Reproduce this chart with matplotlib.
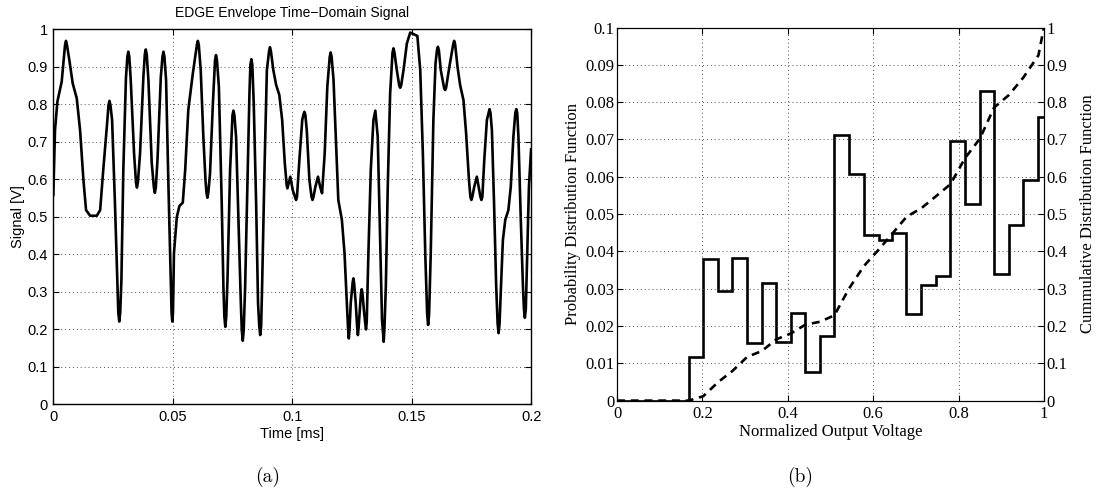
import numpy as np
import matplotlib
matplotlib.use('Agg')
import matplotlib.pyplot as plt
from matplotlib.ticker import FuncFormatter

# (a) 包络信号，从图上读出的点
t_ms = [0.0000, 0.0007, 0.0017, 0.0035, 0.0049, 0.0053, 0.0057, 0.0067, 0.0081, 0.0098,
        0.0112, 0.0126, 0.0137, 0.0154, 0.0182, 0.0196, 0.0209, 0.0224, 0.0231, 0.0235,
        0.0239, 0.0246, 0.0258, 0.0268, 0.0272, 0.0276, 0.0280, 0.0285, 0.0293, 0.0304,
        0.0310, 0.0314, 0.0318, 0.0324, 0.0338, 0.0346, 0.0350, 0.0354, 0.0363, 0.0377,
        0.0383, 0.0387, 0.0391, 0.0398, 0.0412, 0.0421, 0.0425, 0.0429, 0.0436, 0.0450,
        0.0457, 0.0461, 0.0465, 0.0472, 0.0482, 0.0492, 0.0495, 0.0498, 0.0501, 0.0505,
        0.0517, 0.0528, 0.0542, 0.0552, 0.0565, 0.0584, 0.0601, 0.0605, 0.0609, 0.0617,
        0.0628, 0.0637, 0.0641, 0.0645, 0.0649, 0.0656, 0.0668, 0.0677, 0.0681, 0.0685,
        0.0693, 0.0705, 0.0712, 0.0716, 0.0720, 0.0724, 0.0729, 0.0740, 0.0750, 0.0754,
        0.0758, 0.0765, 0.0775, 0.0785, 0.0789, 0.0793, 0.0797, 0.0803, 0.0814, 0.0821,
        0.0825, 0.0829, 0.0833, 0.0839, 0.0849, 0.0857, 0.0862, 0.0866, 0.0870, 0.0874,
        0.0884, 0.0894, 0.0903, 0.0907, 0.0911, 0.0921, 0.0933, 0.0946, 0.0958, 0.0969,
        0.0977, 0.0980, 0.0983, 0.0992, 0.1002, 0.1012, 0.1016, 0.1020, 0.1030, 0.1042,
        0.1047, 0.1051, 0.1055, 0.1061, 0.1072, 0.1081, 0.1085, 0.1089, 0.1097, 0.1108,
        0.1117, 0.1125, 0.1136, 0.1147, 0.1157, 0.1161, 0.1165, 0.1173, 0.1184, 0.1193,
        0.1208, 0.1219, 0.1229, 0.1234, 0.1237, 0.1240, 0.1245, 0.1253, 0.1256, 0.1259,
        0.1266, 0.1272, 0.1275, 0.1278, 0.1283, 0.1288, 0.1291, 0.1294, 0.1300, 0.1306,
        0.1309, 0.1312, 0.1319, 0.1329, 0.1340, 0.1348, 0.1358, 0.1368, 0.1376, 0.1380,
        0.1383, 0.1386, 0.1392, 0.1400, 0.1410, 0.1420, 0.1424, 0.1428, 0.1438, 0.1448,
        0.1452, 0.1456, 0.1466, 0.1480, 0.1494, 0.1508, 0.1524, 0.1536, 0.1547, 0.1557,
        0.1565, 0.1569, 0.1573, 0.1580, 0.1591, 0.1600, 0.1606, 0.1610, 0.1614, 0.1622,
        0.1636, 0.1640, 0.1644, 0.1658, 0.1674, 0.1678, 0.1682, 0.1692, 0.1703, 0.1717,
        0.1728, 0.1740, 0.1746, 0.1750, 0.1754, 0.1762, 0.1773, 0.1783, 0.1788, 0.1792,
        0.1796, 0.1804, 0.1815, 0.1822, 0.1826, 0.1830, 0.1836, 0.1845, 0.1854, 0.1860,
        0.1864, 0.1868, 0.1874, 0.1882, 0.1892, 0.1905, 0.1915, 0.1926, 0.1934, 0.1938,
        0.1942, 0.1947, 0.1957, 0.1966, 0.1970, 0.1974, 0.1978, 0.1982, 0.1991, 0.2000]
signal_v = [0.558, 0.731, 0.807, 0.860, 0.958, 0.969, 0.958, 0.918, 0.856, 0.816,
            0.731, 0.598, 0.518, 0.503, 0.503, 0.518, 0.625, 0.740, 0.798, 0.809,
            0.798, 0.758, 0.536, 0.332, 0.245, 0.221, 0.245, 0.332, 0.625, 0.870,
            0.927, 0.940, 0.927, 0.865, 0.669, 0.592, 0.578, 0.592, 0.669, 0.873,
            0.933, 0.946, 0.933, 0.865, 0.643, 0.578, 0.564, 0.578, 0.651, 0.873,
            0.927, 0.940, 0.927, 0.865, 0.580, 0.314, 0.245, 0.221, 0.245, 0.403,
            0.500, 0.529, 0.538, 0.625, 0.785, 0.882, 0.958, 0.969, 0.958, 0.891,
            0.714, 0.598, 0.565, 0.551, 0.565, 0.616, 0.803, 0.918, 0.931, 0.918,
            0.847, 0.536, 0.314, 0.235, 0.207, 0.235, 0.332, 0.625, 0.771, 0.783,
            0.771, 0.714, 0.492, 0.270, 0.198, 0.170, 0.198, 0.314, 0.625, 0.829,
            0.905, 0.920, 0.905, 0.803, 0.536, 0.270, 0.210, 0.185, 0.210, 0.314,
            0.625, 0.891, 0.941, 0.952, 0.941, 0.891, 0.851, 0.825, 0.758, 0.643,
            0.584, 0.576, 0.584, 0.607, 0.572, 0.553, 0.545, 0.553, 0.651, 0.758,
            0.772, 0.780, 0.772, 0.731, 0.598, 0.553, 0.545, 0.553, 0.580, 0.607,
            0.580, 0.563, 0.669, 0.847, 0.926, 0.938, 0.926, 0.865, 0.687, 0.545,
            0.492, 0.403, 0.270, 0.200, 0.176, 0.200, 0.270, 0.325, 0.336, 0.325,
            0.270, 0.205, 0.185, 0.205, 0.252, 0.298, 0.307, 0.298, 0.252, 0.215,
            0.200, 0.220, 0.403, 0.625, 0.758, 0.783, 0.714, 0.447, 0.225, 0.190,
            0.167, 0.200, 0.314, 0.580, 0.829, 0.938, 0.949, 0.938, 0.891, 0.850,
            0.844, 0.850, 0.891, 0.962, 0.991, 0.987, 0.982, 0.891, 0.669, 0.403,
            0.240, 0.212, 0.240, 0.403, 0.758, 0.909, 0.944, 0.953, 0.944, 0.891,
            0.843, 0.838, 0.843, 0.900, 0.960, 0.969, 0.960, 0.900, 0.851, 0.811,
            0.723, 0.598, 0.553, 0.545, 0.553, 0.580, 0.607, 0.572, 0.553, 0.545,
            0.553, 0.651, 0.758, 0.777, 0.787, 0.777, 0.731, 0.536, 0.314, 0.215,
            0.190, 0.215, 0.314, 0.438, 0.492, 0.518, 0.580, 0.714, 0.777, 0.787,
            0.777, 0.714, 0.492, 0.314, 0.255, 0.231, 0.255, 0.358, 0.580, 0.680]

# (b) 直方图
bin_edges = [0, 0.034, 0.068, 0.102, 0.136, 0.168, 0.202, 0.237, 0.270, 0.305, 0.339,
             0.373, 0.407, 0.441, 0.475, 0.509, 0.543, 0.578, 0.613, 0.645, 0.678,
             0.713, 0.746, 0.781, 0.815, 0.850, 0.883, 0.918, 0.952, 0.987, 1.0]
pdf_vals = [0, 0, 0, 0, 0, 0.0118, 0.0380, 0.0293, 0.0383, 0.0154,
            0.0314, 0.0157, 0.0236, 0.0078, 0.0172, 0.0712, 0.0608, 0.0444, 0.0430, 0.0448,
            0.0233, 0.0309, 0.0333, 0.0697, 0.0527, 0.0829, 0.0339, 0.0472, 0.0591, 0.0759]

fmt = FuncFormatter(lambda v, p: '%g' % v)
grid_style = dict(linestyle=(0, (1, 3)), color='0.3', lw=0.7)

fig = plt.figure(figsize=(10.95, 4.91), dpi=100)

# 左图
sans = 'Liberation Sans'
ax = fig.add_axes([0.0487, 0.1762, 0.4363, 0.7643])
ax.plot(t_ms, signal_v, color='black', lw=1.9, solid_joinstyle='round')
ax.set_xlim(0, 0.2)
ax.set_ylim(0, 1)
ax.set_xticks(np.arange(0, 0.21, 0.05))
ax.set_yticks(np.arange(0, 1.01, 0.1))
ax.xaxis.set_major_formatter(fmt)
ax.yaxis.set_major_formatter(fmt)
ax.grid(True, **grid_style)
ax.tick_params(direction='in', top=True, right=True, length=4, labelsize=10.5, pad=4)
for lab in ax.get_xticklabels() + ax.get_yticklabels():
    lab.set_family(sans)
ax.set_title('EDGE Envelope Time\u2212Domain Signal', family=sans, fontsize=10, pad=9)
ax.set_xlabel('Time [ms]', family=sans, fontsize=10.5, labelpad=2)
ax.set_ylabel('Signal [V]', family=sans, fontsize=10.5, labelpad=2)
for s in ax.spines.values():
    s.set_linewidth(1.0)

# 右图
serif = 'Liberation Serif'
bx = fig.add_axes([0.5635, 0.1841, 0.3899, 0.7597])
bx.stairs(pdf_vals, bin_edges, color='black', lw=1.9, baseline=None)
cdf = np.concatenate([[0], np.cumsum(pdf_vals)])
bx.set_xlim(0, 1)
bx.set_ylim(0, 0.1)
bx.set_xticks(np.arange(0, 1.01, 0.2))
bx.set_yticks(np.arange(0, 0.101, 0.01))
bx.xaxis.set_major_formatter(fmt)
bx.yaxis.set_major_formatter(fmt)
bx.grid(True, **grid_style)
bx.tick_params(direction='in', top=True, length=4, labelsize=12, pad=2)
bx.tick_params(axis='x', pad=4)
for lab in bx.get_xticklabels() + bx.get_yticklabels():
    lab.set_family(serif)
bx.set_xlabel('Normalized Output Voltage', family=serif, fontsize=12, labelpad=1)
bx.set_ylabel('Probability Distribution Function', family=serif, fontsize=12, labelpad=3)

cx = bx.twinx()
cx.plot(bin_edges, cdf, color='black', lw=1.9, dashes=(3, 2.2))
cx.set_ylim(0, 1)
cx.set_yticks(np.arange(0, 1.01, 0.1))
cx.yaxis.set_major_formatter(fmt)
cx.tick_params(direction='in', length=4, labelsize=12, pad=2)
for lab in cx.get_yticklabels():
    lab.set_family(serif)
cx.set_ylabel('Cummulative Distribution Function', family=serif, fontsize=12, labelpad=9)

fig.text(0.2447, 0.029, '(a)', family='cmr10', fontsize=14, ha='center', va='center')
fig.text(0.731, 0.029, '(b)', family='cmr10', fontsize=14, ha='center', va='center')

fig.savefig('out.png', dpi=100)
